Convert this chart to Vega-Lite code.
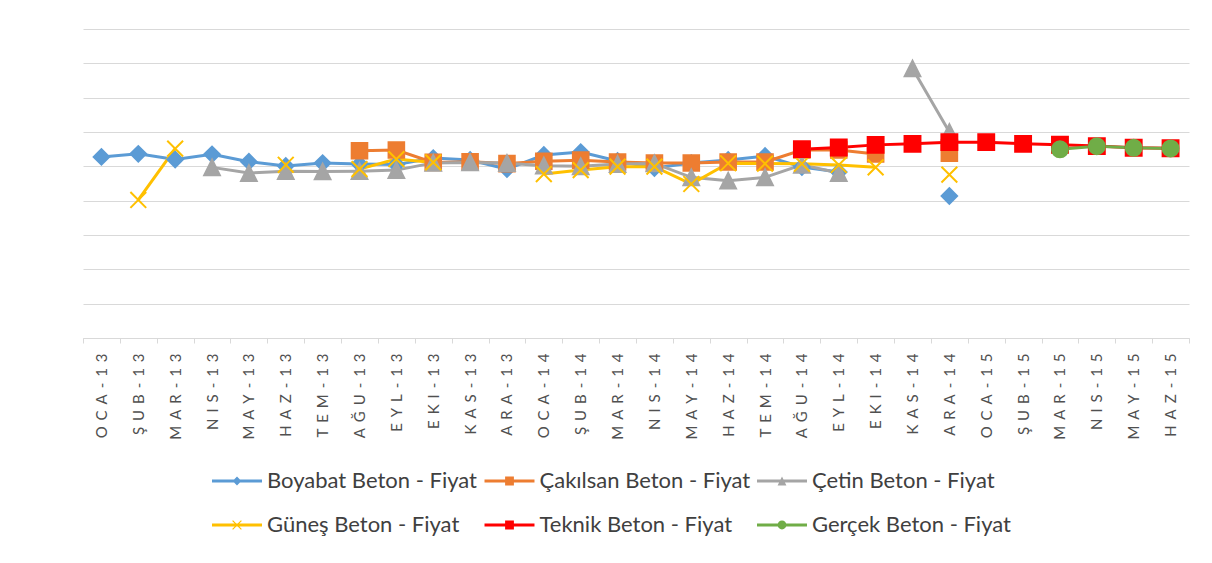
{
  "$schema": "https://vega.github.io/schema/vega-lite/v6.json",
  "width": 1106,
  "height": 309,
  "padding": {"left": 76, "top": 29, "right": 0, "bottom": 0},
  "background": "white",
  "config": {
    "font": "Lato",
    "view": {"stroke": null},
    "legend": {
      "symbolSize": 1936,
      "symbolStrokeWidth": 0,
      "symbolOpacity": 1,
      "labelFont": "Lato",
      "labelFontSize": 22,
      "labelColor": "#404040",
      "labelOffset": 8,
      "labelLimit": 400,
      "columnPadding": 6.5,
      "rowPadding": 11,
      "gridAlign": "all"
    }
  },
  "data": {
    "values": [
      {"ay": "OCA-13", "firma": "Boyabat Beton - Fiyat", "fiyat": 105.5},
      {"ay": "ŞUB-13", "firma": "Boyabat Beton - Fiyat", "fiyat": 107.3},
      {"ay": "MAR-13", "firma": "Boyabat Beton - Fiyat", "fiyat": 104.0},
      {"ay": "NIS-13", "firma": "Boyabat Beton - Fiyat", "fiyat": 107.0},
      {"ay": "MAY-13", "firma": "Boyabat Beton - Fiyat", "fiyat": 102.7},
      {"ay": "HAZ-13", "firma": "Boyabat Beton - Fiyat", "fiyat": 100.2},
      {"ay": "TEM-13", "firma": "Boyabat Beton - Fiyat", "fiyat": 101.9},
      {"ay": "AĞU-13", "firma": "Boyabat Beton - Fiyat", "fiyat": 101.3},
      {"ay": "EYL-13", "firma": "Boyabat Beton - Fiyat", "fiyat": 101.0},
      {"ay": "EKI-13", "firma": "Boyabat Beton - Fiyat", "fiyat": 104.8},
      {"ay": "KAS-13", "firma": "Boyabat Beton - Fiyat", "fiyat": 103.7},
      {"ay": "ARA-13", "firma": "Boyabat Beton - Fiyat", "fiyat": 98.4},
      {"ay": "OCA-14", "firma": "Boyabat Beton - Fiyat", "fiyat": 106.6},
      {"ay": "ŞUB-14", "firma": "Boyabat Beton - Fiyat", "fiyat": 108.3},
      {"ay": "MAR-14", "firma": "Boyabat Beton - Fiyat", "fiyat": 103.1},
      {"ay": "NIS-14", "firma": "Boyabat Beton - Fiyat", "fiyat": 99.0},
      {"ay": "MAY-14", "firma": "Boyabat Beton - Fiyat", "fiyat": 101.9},
      {"ay": "HAZ-14", "firma": "Boyabat Beton - Fiyat", "fiyat": 103.7},
      {"ay": "TEM-14", "firma": "Boyabat Beton - Fiyat", "fiyat": 106.0},
      {"ay": "AĞU-14", "firma": "Boyabat Beton - Fiyat", "fiyat": 99.6},
      {"ay": "EYL-14", "firma": "Boyabat Beton - Fiyat", "fiyat": 96.7},
      {"ay": "EKI-14", "firma": "Boyabat Beton - Fiyat", "fiyat": null},
      {"ay": "KAS-14", "firma": "Boyabat Beton - Fiyat", "fiyat": null},
      {"ay": "ARA-14", "firma": "Boyabat Beton - Fiyat", "fiyat": 82.7},

      {"ay": "AĞU-13", "firma": "Çakılsan Beton - Fiyat", "fiyat": 109.1},
      {"ay": "EYL-13", "firma": "Çakılsan Beton - Fiyat", "fiyat": 109.5},
      {"ay": "EKI-13", "firma": "Çakılsan Beton - Fiyat", "fiyat": 102.3},
      {"ay": "KAS-13", "firma": "Çakılsan Beton - Fiyat", "fiyat": 102.6},
      {"ay": "ARA-13", "firma": "Çakılsan Beton - Fiyat", "fiyat": 101.6},
      {"ay": "OCA-14", "firma": "Çakılsan Beton - Fiyat", "fiyat": 103.0},
      {"ay": "ŞUB-14", "firma": "Çakılsan Beton - Fiyat", "fiyat": 103.6},
      {"ay": "MAR-14", "firma": "Çakılsan Beton - Fiyat", "fiyat": 102.5},
      {"ay": "NIS-14", "firma": "Çakılsan Beton - Fiyat", "fiyat": 101.9},
      {"ay": "MAY-14", "firma": "Çakılsan Beton - Fiyat", "fiyat": 101.9},
      {"ay": "HAZ-14", "firma": "Çakılsan Beton - Fiyat", "fiyat": 102.5},
      {"ay": "TEM-14", "firma": "Çakılsan Beton - Fiyat", "fiyat": 102.5},
      {"ay": "AĞU-14", "firma": "Çakılsan Beton - Fiyat", "fiyat": 109.5},
      {"ay": "EYL-14", "firma": "Çakılsan Beton - Fiyat", "fiyat": 109.5},
      {"ay": "EKI-14", "firma": "Çakılsan Beton - Fiyat", "fiyat": 107.2},
      {"ay": "KAS-14", "firma": "Çakılsan Beton - Fiyat", "fiyat": null},
      {"ay": "ARA-14", "firma": "Çakılsan Beton - Fiyat", "fiyat": 107.7},

      {"ay": "NIS-13", "firma": "Çetin Beton - Fiyat", "fiyat": 99.4},
      {"ay": "MAY-13", "firma": "Çetin Beton - Fiyat", "fiyat": 96.1},
      {"ay": "HAZ-13", "firma": "Çetin Beton - Fiyat", "fiyat": 97.2},
      {"ay": "TEM-13", "firma": "Çetin Beton - Fiyat", "fiyat": 97.0},
      {"ay": "AĞU-13", "firma": "Çetin Beton - Fiyat", "fiyat": 97.2},
      {"ay": "EYL-13", "firma": "Çetin Beton - Fiyat", "fiyat": 97.8},
      {"ay": "EKI-13", "firma": "Çetin Beton - Fiyat", "fiyat": 102.0},
      {"ay": "KAS-13", "firma": "Çetin Beton - Fiyat", "fiyat": 102.3},
      {"ay": "ARA-13", "firma": "Çetin Beton - Fiyat", "fiyat": 101.9},
      {"ay": "OCA-14", "firma": "Çetin Beton - Fiyat", "fiyat": 100.4},
      {"ay": "ŞUB-14", "firma": "Çetin Beton - Fiyat", "fiyat": 100.0},
      {"ay": "MAR-14", "firma": "Çetin Beton - Fiyat", "fiyat": 101.3},
      {"ay": "NIS-14", "firma": "Çetin Beton - Fiyat", "fiyat": 101.7},
      {"ay": "MAY-14", "firma": "Çetin Beton - Fiyat", "fiyat": 93.6},
      {"ay": "HAZ-14", "firma": "Çetin Beton - Fiyat", "fiyat": 91.6},
      {"ay": "TEM-14", "firma": "Çetin Beton - Fiyat", "fiyat": 93.6},
      {"ay": "AĞU-14", "firma": "Çetin Beton - Fiyat", "fiyat": 100.9},
      {"ay": "EYL-14", "firma": "Çetin Beton - Fiyat", "fiyat": 96.1},
      {"ay": "EKI-14", "firma": "Çetin Beton - Fiyat", "fiyat": null},
      {"ay": "KAS-14", "firma": "Çetin Beton - Fiyat", "fiyat": 157.0},
      {"ay": "ARA-14", "firma": "Çetin Beton - Fiyat", "fiyat": 120.0},

      {"ay": "ŞUB-13", "firma": "Güneş Beton - Fiyat", "fiyat": 80.4},
      {"ay": "MAR-13", "firma": "Güneş Beton - Fiyat", "fiyat": 110.3},
      {"ay": "NIS-13", "firma": "Güneş Beton - Fiyat", "fiyat": null},
      {"ay": "HAZ-13", "firma": "Güneş Beton - Fiyat", "fiyat": 100.9},
      {"ay": "TEM-13", "firma": "Güneş Beton - Fiyat", "fiyat": null},
      {"ay": "AĞU-13", "firma": "Güneş Beton - Fiyat", "fiyat": 98.4},
      {"ay": "EYL-13", "firma": "Güneş Beton - Fiyat", "fiyat": 104.2},
      {"ay": "EKI-13", "firma": "Güneş Beton - Fiyat", "fiyat": 102.3},
      {"ay": "KAS-13", "firma": "Güneş Beton - Fiyat", "fiyat": null},
      {"ay": "OCA-14", "firma": "Güneş Beton - Fiyat", "fiyat": 95.5},
      {"ay": "ŞUB-14", "firma": "Güneş Beton - Fiyat", "fiyat": 97.8},
      {"ay": "MAR-14", "firma": "Güneş Beton - Fiyat", "fiyat": 99.8},
      {"ay": "NIS-14", "firma": "Güneş Beton - Fiyat", "fiyat": 99.8},
      {"ay": "MAY-14", "firma": "Güneş Beton - Fiyat", "fiyat": 89.7},
      {"ay": "HAZ-14", "firma": "Güneş Beton - Fiyat", "fiyat": 101.8},
      {"ay": "TEM-14", "firma": "Güneş Beton - Fiyat", "fiyat": 101.6},
      {"ay": "AĞU-14", "firma": "Güneş Beton - Fiyat", "fiyat": 101.5},
      {"ay": "EYL-14", "firma": "Güneş Beton - Fiyat", "fiyat": 100.8},
      {"ay": "EKI-14", "firma": "Güneş Beton - Fiyat", "fiyat": 99.4},
      {"ay": "KAS-14", "firma": "Güneş Beton - Fiyat", "fiyat": null},
      {"ay": "ARA-14", "firma": "Güneş Beton - Fiyat", "fiyat": 95.2},

      {"ay": "AĞU-14", "firma": "Teknik Beton - Fiyat", "fiyat": 110.0},
      {"ay": "EYL-14", "firma": "Teknik Beton - Fiyat", "fiyat": 111.0},
      {"ay": "EKI-14", "firma": "Teknik Beton - Fiyat", "fiyat": 112.5},
      {"ay": "KAS-14", "firma": "Teknik Beton - Fiyat", "fiyat": 113.1},
      {"ay": "ARA-14", "firma": "Teknik Beton - Fiyat", "fiyat": 114.1},
      {"ay": "OCA-15", "firma": "Teknik Beton - Fiyat", "fiyat": 114.1},
      {"ay": "ŞUB-15", "firma": "Teknik Beton - Fiyat", "fiyat": 113.1},
      {"ay": "MAR-15", "firma": "Teknik Beton - Fiyat", "fiyat": 112.6},
      {"ay": "NIS-15", "firma": "Teknik Beton - Fiyat", "fiyat": 111.8},
      {"ay": "MAY-15", "firma": "Teknik Beton - Fiyat", "fiyat": 110.8},
      {"ay": "HAZ-15", "firma": "Teknik Beton - Fiyat", "fiyat": 110.5},

      {"ay": "MAR-15", "firma": "Gerçek Beton - Fiyat", "fiyat": 109.9},
      {"ay": "NIS-15", "firma": "Gerçek Beton - Fiyat", "fiyat": 111.7},
      {"ay": "MAY-15", "firma": "Gerçek Beton - Fiyat", "fiyat": 110.8},
      {"ay": "HAZ-15", "firma": "Gerçek Beton - Fiyat", "fiyat": 110.4}
    ]
  },
  "encoding": {
    "x": {
      "field": "ay",
      "type": "ordinal",
      "sort": ["OCA-13","ŞUB-13","MAR-13","NIS-13","MAY-13","HAZ-13","TEM-13","AĞU-13","EYL-13","EKI-13","KAS-13","ARA-13","OCA-14","ŞUB-14","MAR-14","NIS-14","MAY-14","HAZ-14","TEM-14","AĞU-14","EYL-14","EKI-14","KAS-14","ARA-14","OCA-15","ŞUB-15","MAR-15","NIS-15","MAY-15","HAZ-15"],
      "scale": {"type": "band", "paddingInner": 0, "paddingOuter": 0},
      "bandPosition": 0.5,
      "axis": {
        "title": null,
        "tickBand": "extent",
        "labelAngle": 270,
        "labelFont": "Lato",
        "labelFontSize": 15,
        "labelColor": "#505050",
        "labelPadding": 10,
        "labelExpr": "join(split(datum.label, ''), '\u2004\u200A')",
        "tickSize": 5,
        "tickColor": "#d9d9d9",
        "domainColor": "#d9d9d9",
        "domainWidth": 1,
        "grid": false
      }
    },
    "y": {
      "field": "fiyat",
      "type": "quantitative",
      "scale": {"domain": [0, 180], "nice": false, "zero": true},
      "axis": {
        "title": null,
        "values": [0, 20, 40, 60, 80, 100, 120, 140, 160, 180],
        "tickCount": 12,
        "labelOverlap": false,
        "labels": false,
        "ticks": false,
        "domain": false,
        "grid": true,
        "gridColor": "#d9d9d9",
        "gridWidth": 1
      }
    }
  },
  "layer": [
    {
      "mark": {"type": "line", "strokeWidth": 3, "invalid": "break-paths-filter-domains"},
      "encoding": {
        "color": {
          "field": "firma",
          "type": "nominal",
          "scale": {
            "domain": ["Boyabat Beton - Fiyat", "Çakılsan Beton - Fiyat", "Çetin Beton - Fiyat", "Güneş Beton - Fiyat", "Teknik Beton - Fiyat", "Gerçek Beton - Fiyat"],
            "range": ["#5B9BD5", "#ED7D31", "#A5A5A5", "#FFC000", "#FF0000", "#70AD47"]
          },
          "legend": null
        }
      }
    },
    {
      "mark": {"type": "point", "filled": true, "opacity": 1, "strokeWidth": 2},
      "encoding": {
        "color": {"field": "firma", "type": "nominal", "legend": null},
        "stroke": {
          "field": "firma",
          "type": "nominal",
          "scale": {
            "domain": ["Boyabat Beton - Fiyat", "Çakılsan Beton - Fiyat", "Çetin Beton - Fiyat", "Güneş Beton - Fiyat", "Teknik Beton - Fiyat", "Gerçek Beton - Fiyat"],
            "range": ["#5B9BD5", "#ED7D31", "#A5A5A5", "#FFC000", "#FF0000", "#70AD47"]
          },
          "legend": null
        },
        "shape": {
          "field": "firma",
          "type": "nominal",
          "scale": {
            "domain": ["Boyabat Beton - Fiyat", "Çakılsan Beton - Fiyat", "Çetin Beton - Fiyat", "Güneş Beton - Fiyat", "Teknik Beton - Fiyat", "Gerçek Beton - Fiyat"],
            "range": ["diamond", "square", "M0,-1L1,1L-1,1Z", "M-1,-1L1,1M-1,1L1,-1", "square", "circle"]
          },
          "legend": null
        },
        "size": {
          "field": "firma",
          "type": "nominal",
          "scale": {
            "domain": ["Boyabat Beton - Fiyat", "Çakılsan Beton - Fiyat", "Çetin Beton - Fiyat", "Güneş Beton - Fiyat", "Teknik Beton - Fiyat", "Gerçek Beton - Fiyat"],
            "range": [240, 256, 200, 289, 240, 256]
          },
          "legend": null
        }
      }
    },
    {
      "transform": [{"filter": "false"}],
      "mark": {"type": "point", "filled": true, "opacity": 1},
      "encoding": {
        "fill": {
          "field": "firma",
          "type": "nominal",
          "scale": {
            "domain": ["Boyabat Beton - Fiyat", "Çakılsan Beton - Fiyat", "Çetin Beton - Fiyat", "Güneş Beton - Fiyat", "Teknik Beton - Fiyat", "Gerçek Beton - Fiyat"],
            "range": ["#5B9BD5", "#ED7D31", "#A5A5A5", "#FFC000", "#FF0000", "#70AD47"]
          },
          "legend": {"title": null, "orient": "none", "legendX": 132, "legendY": 430, "columns": 3, "direction": "horizontal"}
        },
        "shape": {
          "field": "firma",
          "type": "nominal",
          "scale": {
            "domain": ["Boyabat Beton - Fiyat", "Çakılsan Beton - Fiyat", "Çetin Beton - Fiyat", "Güneş Beton - Fiyat", "Teknik Beton - Fiyat", "Gerçek Beton - Fiyat"],
            "range": [
              "M-1.136,-0.068L1.136,-0.068L1.136,0.068L-1.136,0.068Z M0,-0.2L0.2,0L0,0.2L-0.2,0Z",
              "M-1.136,-0.068L1.136,-0.068L1.136,0.068L-1.136,0.068Z M-0.2,-0.2L0.2,-0.2L0.2,0.2L-0.2,0.2Z",
              "M-1.136,-0.068L1.136,-0.068L1.136,0.068L-1.136,0.068Z M0,-0.2L0.2,0.2L-0.2,0.2Z",
              "M-1.136,-0.068L1.136,-0.068L1.136,0.068L-1.136,0.068Z M-0.181,-0.219L0.219,0.181L0.181,0.219L-0.219,-0.181Z M0.219,-0.181L-0.181,0.219L-0.219,0.181L0.181,-0.219Z",
              "M-1.136,-0.068L1.136,-0.068L1.136,0.068L-1.136,0.068Z M-0.2,-0.2L0.2,-0.2L0.2,0.2L-0.2,0.2Z",
              "M-1.136,-0.068L1.136,-0.068L1.136,0.068L-1.136,0.068Z M-0.2,0A0.2,0.2 0 1,1 0.2,0A0.2,0.2 0 1,1 -0.2,0Z"
            ]
          },
          "legend": {"title": null, "orient": "none", "legendX": 132, "legendY": 430, "columns": 3, "direction": "horizontal"}
        }
      }
    }
  ],
  "resolve": {"scale": {"shape": "independent", "fill": "independent", "size": "independent", "stroke": "independent"}}
}
